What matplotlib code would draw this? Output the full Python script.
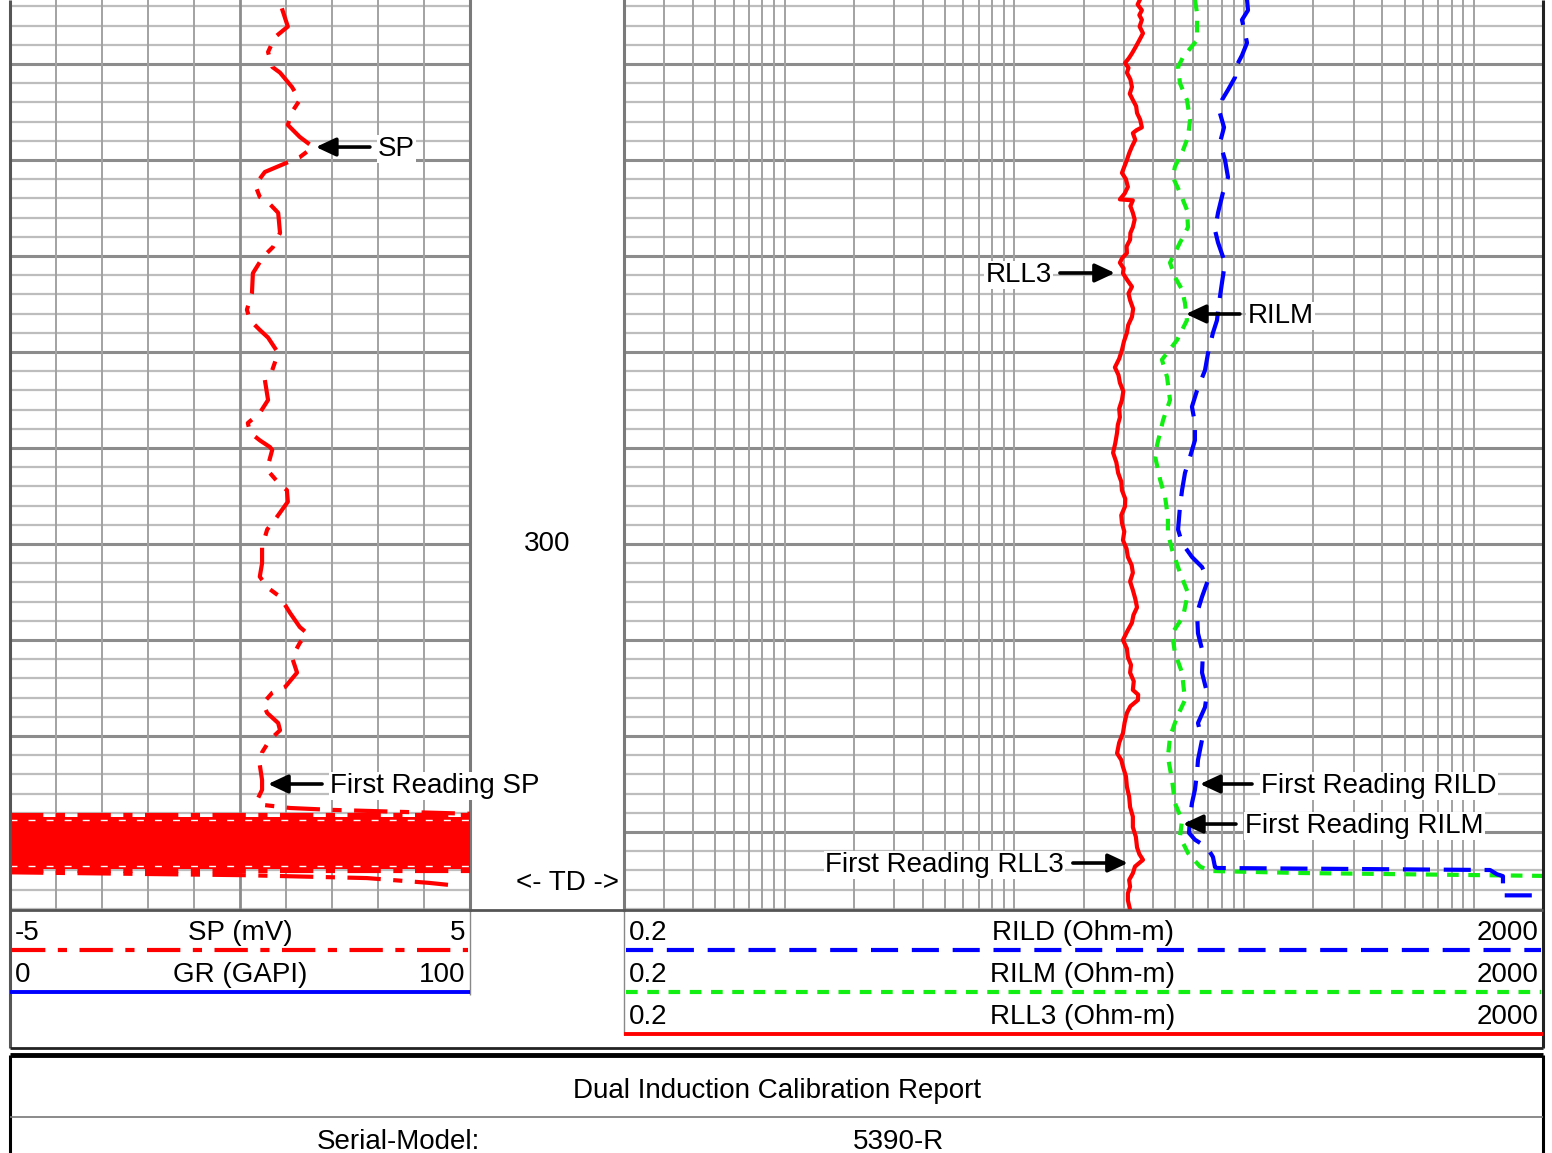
import numpy as np
import matplotlib
matplotlib.use('Agg')
import matplotlib.pyplot as plt

plt.rcParams['font.family'] = ['Liberation Sans', 'DejaVu Sans']

# ---------------- data (depth in ft) ----------------
sp_depth = [244.2, 246.1, 247.2, 248.75, 250.3, 250.9, 252.4, 253.75, 255.0, 256.35,
            257.6, 258.65, 259.7, 260.5, 261.25, 262.6, 263.85, 264.4, 265.5, 267.6,
            269.05, 270.1, 271.8, 273.85, 275.6, 276.7, 277.7, 278.5, 280.1, 281.9,
            282.9, 285.0, 286.35, 287.4, 288.4, 289.2, 289.9, 290.2, 291.8, 292.6,
            293.6, 294.4, 295.6, 297.2, 298.5, 300.3, 302.0, 303.4, 304.5, 305.5,
            307.2, 308.65, 309.3, 310.3, 311.8, 313.4, 314.9, 315.5, 316.6, 317.6,
            318.65, 319.4, 320.4, 321.7, 323.0, 324.6, 325.6, 326.7, 327.2, 327.5,
            327.7, 327.9, 328.1]
sp_mv = [0.91, 1.04, 0.76, 0.61, 0.70, 0.87, 1.13, 1.30, 1.13, 1.04,
         1.30, 1.59, 1.30, 0.91, 0.54, 0.33, 0.43, 0.61, 0.83, 0.87,
         0.72, 0.50, 0.28, 0.26, 0.15, 0.22, 0.43, 0.61, 0.83, 0.70,
         0.54, 0.61, 0.43, 0.17, 0.22, 0.43, 0.65, 0.70, 0.61, 0.65,
         0.83, 1.02, 1.04, 0.80, 0.59, 0.48, 0.48, 0.43, 0.59, 0.87,
         1.09, 1.30, 1.46, 1.30, 1.13, 1.24, 0.98, 0.70, 0.50, 0.59,
         0.83, 0.87, 0.65, 0.48, 0.43, 0.48, 0.48, 0.37, 0.54, 1.09,
         2.02, 3.48, 5.0]
# noisy (wrapped) SP zone before the first reading
sp_band_depth = [328.45, 333.85]
sp_band_edges = [328.2, 334.1]
sp_tail_depth = [334.2, 334.5, 334.8, 335.3, 335.6]
sp_tail_mv = [-5.0, 0.11, 2.76, 4.11, 4.72]

rll3_depth = [243.3, 243.8, 244.4, 244.9, 245.4, 246.1, 246.8, 247.3, 247.8, 248.3,
              248.9, 249.4, 249.9, 250.4, 250.9, 251.6, 252.4, 253.1, 253.75, 254.4,
              255.1, 255.8, 256.6, 256.9, 257.2, 257.9, 258.6, 259.3, 260.0, 260.7,
              261.35, 262.0, 262.8, 263.5, 264.1, 264.2, 264.8, 265.5, 266.2, 267.0,
              267.6, 268.3, 269.0, 269.7, 270.2, 270.7, 271.3, 271.8, 272.5, 273.2,
              273.9, 274.6, 275.5, 276.35, 277.2, 278.0, 278.9, 279.8, 280.7, 281.6,
              282.4, 283.2, 284.1, 285.0, 285.9, 286.8, 287.6, 288.4, 289.5, 290.5,
              291.5, 292.6, 293.5, 294.4, 295.3, 296.1, 297.0, 297.8, 298.7, 299.6,
              300.5, 301.35, 302.2, 303.0, 303.9, 304.8, 305.7, 306.6, 307.4, 308.2,
              309.1, 310.0, 310.9, 311.8, 312.6, 313.4, 314.3, 315.2, 315.7, 316.25,
              316.9, 317.6, 318.6, 319.7, 320.7, 321.8, 322.5, 323.2, 324.2, 325.3,
              326.3, 327.4, 328.4, 329.5, 330.5, 331.6, 332.3, 332.9, 333.6, 334.3,
              335.0, 335.7, 336.4, 337.1, 338.1]
rll3 = [35.2, 34.4, 35.9, 35.0, 35.9, 35.1, 36.3, 35.4, 34.5, 33.6,
        32.5, 31.5, 30.3, 31.4, 30.9, 32.0, 32.5, 31.8, 32.8, 33.9,
        34.2, 35.3, 35.9, 34.0, 32.8, 33.6, 32.5, 31.6, 30.9, 30.1,
        29.4, 30.6, 31.2, 30.2, 28.8, 32.8, 32.0, 32.8, 33.4, 32.8,
        32.0, 31.9, 30.8, 30.9, 29.5, 28.8, 29.9, 29.7, 31.0, 32.5,
        31.4, 31.9, 32.9, 32.5, 31.3, 30.9, 30.0, 29.4, 28.6, 27.4,
        28.4, 28.8, 29.8, 29.4, 28.6, 28.8, 28.2, 28.0, 27.5, 26.9,
        27.8, 28.3, 29.2, 29.4, 30.4, 30.3, 29.2, 29.4, 30.1, 29.7,
        30.8, 31.2, 32.4, 32.8, 31.9, 32.8, 33.6, 34.2, 33.0, 32.5,
        31.0, 29.7, 30.9, 31.2, 32.2, 31.9, 33.1, 32.8, 34.6, 34.5,
        32.0, 30.9, 30.2, 29.7, 28.6, 28.0, 29.2, 29.7, 30.6, 30.9,
        31.6, 31.9, 32.8, 32.8, 33.8, 34.2, 35.0, 36.3, 33.5, 32.8,
        31.6, 31.9, 31.2, 31.2, 31.9]

rilm_depth = [243.3, 244.7, 247.5, 249.3, 250.3, 252.0, 253.75, 255.8, 257.6, 259.0,
              260.7, 261.8, 263.4, 265.2, 267.0, 268.6, 270.7, 272.2, 273.5, 274.9,
              276.7, 278.75, 280.8, 282.6, 285.0, 287.1, 288.4, 289.7, 290.9, 293.3,
              295.1, 297.2, 298.85, 300.6, 303.0, 305.1, 307.6, 309.3, 311.35, 313.4,
              316.25, 318.0, 320.1, 322.2, 324.6, 327.0, 328.75, 330.5, 332.2, 333.6,
              334.06, 334.27, 334.6]
rilm = [61.1, 62.4, 62.4, 54.2, 51.6, 52.6, 56.4, 58.2, 57.0, 54.2,
        50.0, 49.0, 52.6, 56.4, 57.0, 52.6, 47.6, 50.0, 53.7, 55.3,
        56.4, 51.1, 43.9, 46.2, 47.6, 44.4, 43.1, 41.8, 41.0, 43.1,
        45.3, 46.6, 46.6, 48.6, 52.6, 57.0, 54.2, 48.6, 50.0, 53.7,
        55.3, 51.1, 47.6, 46.6, 48.6, 50.0, 53.7, 52.6, 57.0, 64.3,
        71.1, 175.0, 2500.0]

rild_depth = [243.3, 244.4, 245.4, 246.8, 247.8, 249.1, 250.3, 251.4, 252.7, 253.75,
              254.8, 256.6, 258.2, 260.0, 261.8, 263.4, 265.5, 267.3, 268.6, 270.7,
              272.8, 274.9, 276.7, 278.0, 280.1, 281.9, 284.0, 285.7, 287.4, 289.2,
              290.9, 292.6, 294.4, 296.1, 298.5, 299.9, 301.35, 302.4, 303.75, 305.5,
              307.2, 309.3, 311.35, 313.4, 315.5, 317.0, 318.65, 320.4, 322.5, 323.85,
              325.6, 327.0, 328.4, 330.1, 330.8, 331.6, 332.6, 333.65, 333.75, 333.85,
              333.96, 334.4, 334.6, 336.6, 336.6]
rild = [103.0, 104.0, 97.9, 100.9, 103.0, 97.9, 92.2, 91.3, 85.1, 80.1,
        77.8, 81.8, 78.5, 82.6, 85.1, 80.9, 77.0, 74.7, 77.0, 82.6,
        80.1, 77.8, 76.2, 73.2, 69.7, 67.6, 62.4, 59.3, 61.1, 61.1,
        58.2, 55.3, 53.7, 52.6, 51.6, 53.7, 59.3, 65.6, 69.7, 65.6,
        62.4, 63.0, 66.2, 65.6, 69.0, 67.6, 63.0, 65.6, 63.0, 62.4,
        61.1, 59.3, 58.2, 57.6, 61.1, 69.0, 73.2, 74.7, 76.2, 289.0,
        1176.0, 1261.0, 1339.0, 1339.0, 2500.0]

depth_label = 300
td_depth = 335.3

# ---------------- layout ----------------
W, H = 1552, 1153
fig = plt.figure(figsize=(W / 100, H / 100), dpi=100)


def frac(x0, y0, x1, y1):
    return [x0 / W, 1 - y1 / H, (x1 - x0) / W, (y1 - y0) / H]


TOP, BOT = 243.333, 338.125
RED, BLUE, GREEN = '#ff0000', '#0000ff', '#11ee11'
MINOR_C, MAJOR_C, VERT_C = '#bdbdbd', '#8c8c8c', '#a2a2a2'
FS = 20

ax_sp = fig.add_axes(frac(10, 0, 470, 910))
ax_mid = fig.add_axes(frac(470, 0, 624, 910))
ax_res = fig.add_axes(frac(624, 0, 1543, 910))

for ax in (ax_sp, ax_res, ax_mid):
    ax.set_ylim(BOT, TOP)
    ax.set_xticks([])
    ax.set_yticks([])
    for s in ax.spines.values():
        s.set_visible(False)
ax_mid.axis('off')
ax_sp.set_xlim(-5, 5)
ax_res.set_xscale('log')
ax_res.set_xlim(0.2, 2000)
ax_res.set_xticks([])
ax_res.set_xticks([], minor=True)

# depth grid
for ax in (ax_sp, ax_res):
    for d in np.arange(244, 338.1, 2):
        major = (round(d) % 10 == 0)
        ax.axhline(d, color=MAJOR_C if major else MINOR_C,
                   lw=2.2 if major else 1.6, zorder=1)
for v in range(-4, 5):
    ax_sp.axvline(v, color=MAJOR_C if v == 0 else VERT_C,
                  lw=2.0 if v == 0 else 1.4, zorder=1)
for dec in [0.1, 1, 10, 100, 1000]:
    for m in range(1, 10):
        v = m * dec
        if 0.2 < v < 2000:
            ax_res.axvline(v, color=VERT_C, lw=1.4, zorder=1)

# track borders (under the annotation text boxes)
ax_sp.axvline(5, color='#7a7a7a', lw=2.2, zorder=2, clip_on=False)
ax_res.axvline(0.2, color='#7a7a7a', lw=2.2, zorder=2, clip_on=False)

# curves
LW = 3.0
sp_dash = (8, 3, 2.2, 3)
ax_sp.plot(sp_mv, sp_depth, color=RED, lw=LW, dashes=sp_dash, zorder=3)
ax_sp.axhspan(sp_band_depth[0], sp_band_depth[1], color=RED, lw=0, zorder=3)
for d in sp_band_edges:
    ax_sp.plot([-5, 5], [d, d], color=RED, lw=LW, dashes=sp_dash, zorder=3)
for d in (sp_band_depth[0] + 0.3, sp_band_depth[1] - 0.3):
    ax_sp.plot([-5, 5], [d, d], color='white', lw=1.0, dashes=(5, 8), zorder=3)
ax_sp.plot(sp_tail_mv, sp_tail_depth, color=RED, lw=LW, dashes=sp_dash, zorder=3)

ax_res.plot(rll3, rll3_depth, color=RED, lw=LW, zorder=3)
ax_res.plot(rilm, rilm_depth, color=GREEN, lw=LW, dashes=(2.8, 2.3), zorder=3)
ax_res.plot(rild, rild_depth, color=BLUE, lw=LW, dashes=(6.5, 3.3), zorder=3)

ax_mid.text(0.5, depth_label, str(depth_label), transform=ax_mid.get_yaxis_transform(),
            ha='center', va='center', fontsize=FS)
ax_mid.text(0.63, td_depth, '<- TD ->', transform=ax_mid.get_yaxis_transform(),
            ha='center', va='center', fontsize=FS)

# annotations
ARROW = dict(arrowstyle='-|>,head_length=0.6,head_width=0.28', lw=2.6, color='black',
             shrinkA=0, shrinkB=0, mutation_scale=20)
BOX = dict(facecolor='white', edgecolor='none', pad=1.0)


def mark(ax, x, d, label, dx, text_dx):
    ax.annotate('', xy=(x, d), xytext=(dx, 0), textcoords='offset pixels',
                arrowprops=ARROW, zorder=5)
    ax.annotate(label, xy=(x, d), xytext=(text_dx, -9), textcoords='offset pixels',
                ha='left' if text_dx > 0 else 'right', va='baseline', fontsize=FS,
                bbox=BOX, zorder=4)


mark(ax_sp, 1.65, 258.65, 'SP', 54, 62)
mark(ax_sp, 0.61, 325.0, 'First Reading SP', 54, 62)
mark(ax_res, 27.4, 271.77, 'RLL3', -55, -63)
mark(ax_res, 55.8, 276.04, 'RILM', 54, 62)
mark(ax_res, 64.3, 325.0, 'First Reading RILD', 52, 61)
mark(ax_res, 54.2, 329.17, 'First Reading RILM', 53, 62)
mark(ax_res, 31.2, 333.23, 'First Reading RLL3', -55, -64)

# ---------------- overlay: frame, legends, report table ----------------
ov = fig.add_axes([0, 0, 1, 1], zorder=10)
ov.set_xlim(0, W)
ov.set_ylim(H, 0)
ov.axis('off')


def seg(x0, y0, x1, y1, c='black', lw=2.0):
    ov.plot([x0, x1], [y0, y1], color=c, lw=lw, solid_capstyle='butt')


seg(10, 0, 10, 1048, '#555555', 2.2)
seg(470, 910, 470, 995, '#888888', 1.0)
seg(624, 910, 624, 1035, '#888888', 1.0)
seg(1543, 0, 1543, 1048, '#222222', 2.2)
seg(10, 910, 1543, 910, '#555555', 2.0)
seg(10, 1048, 1543, 1048, '#222222', 2.0)

# legend: left block
ov.text(15, 940, '-5', ha='left', va='baseline', fontsize=FS)
ov.text(240, 940, 'SP (mV)', ha='center', va='baseline', fontsize=FS)
ov.text(465, 940, '5', ha='right', va='baseline', fontsize=FS)
ov.plot([12, 468], [950, 950], color=RED, lw=LW, dashes=sp_dash)
ov.text(15, 982, '0', ha='left', va='baseline', fontsize=FS)
ov.text(240, 982, 'GR (GAPI)', ha='center', va='baseline', fontsize=FS)
ov.text(465, 982, '100', ha='right', va='baseline', fontsize=FS)
seg(10, 992, 470, 992, BLUE, 2.8)

# legend: right block
rows = [('RILD (Ohm-m)', 940, BLUE, (6.5, 3.3)),
        ('RILM (Ohm-m)', 982, GREEN, (2.8, 2.3)),
        ('RLL3 (Ohm-m)', 1024, RED, None)]
for name, yb, c, dsh in rows:
    ov.text(629, yb, '0.2', ha='left', va='baseline', fontsize=FS)
    ov.text(1083, yb, name, ha='center', va='baseline', fontsize=FS)
    ov.text(1538, yb, '2000', ha='right', va='baseline', fontsize=FS)
    if dsh is None:
        seg(624, yb + 10, 1543, yb + 10, c, 2.8)
    else:
        ov.plot([626, 1541], [yb + 10, yb + 10], color=c, lw=LW, dashes=dsh)

# report table
seg(10, 1055, 1543, 1055, 'black', 3.5)
seg(10, 1055, 10, 1153, 'black', 2.2)
seg(1543, 1055, 1543, 1153, 'black', 2.2)
seg(10, 1117, 1543, 1117, '#777777', 1.2)
ov.text(777, 1098, 'Dual Induction Calibration Report', ha='center', va='baseline', fontsize=FS)
ov.text(398, 1149, 'Serial-Model:', ha='center', va='baseline', fontsize=FS)
ov.text(898, 1149, '5390-R', ha='center', va='baseline', fontsize=FS)

fig.savefig('out.png', dpi=100)
